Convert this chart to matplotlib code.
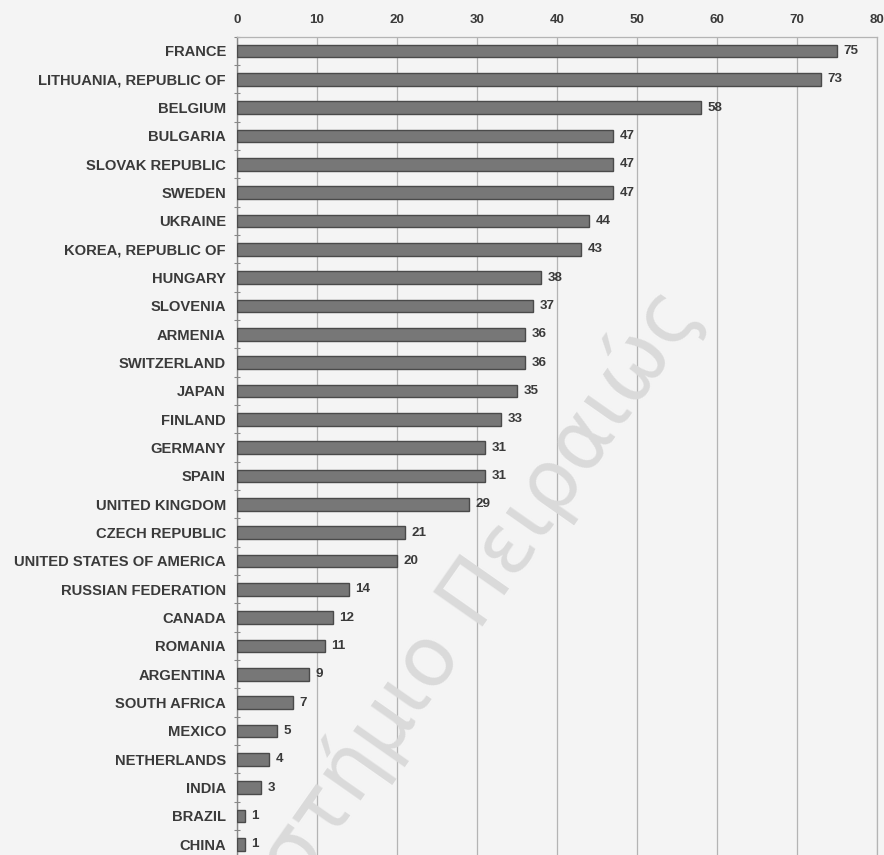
import matplotlib.pyplot as plt
from matplotlib.ticker import FixedLocator

countries = ["FRANCE", "LITHUANIA, REPUBLIC OF", "BELGIUM", "BULGARIA",
             "SLOVAK REPUBLIC", "SWEDEN", "UKRAINE", "KOREA, REPUBLIC OF",
             "HUNGARY", "SLOVENIA", "ARMENIA", "SWITZERLAND", "JAPAN",
             "FINLAND", "GERMANY", "SPAIN", "UNITED KINGDOM", "CZECH REPUBLIC",
             "UNITED STATES OF AMERICA", "RUSSIAN FEDERATION", "CANADA",
             "ROMANIA", "ARGENTINA", "SOUTH AFRICA", "MEXICO", "NETHERLANDS",
             "INDIA", "BRAZIL", "CHINA"]
values = [75, 73, 58, 47, 47, 47, 44, 43, 38, 37, 36, 36, 35, 33, 31, 31,
          29, 21, 20, 14, 12, 11, 9, 7, 5, 4, 3, 1, 1]
x_ticks = [0, 10, 20, 30, 40, 50, 60, 70, 80]

bg = "#f4f4f4"
txt = "#3a3a3a"
font = "Liberation Sans"

fig = plt.figure(figsize=(8.84, 8.55), dpi=100, facecolor=bg)
ax = fig.add_axes([0.2681, -0.004, 0.724, 0.961])
ax.set_facecolor(bg)

pos = list(range(len(countries)))
ax.barh(pos, values, height=0.45, color="#777777", edgecolor="#4a4a4a",
        linewidth=1.0, zorder=3)

for y, v in zip(pos, values):
    ax.annotate(str(v), (v, y), xytext=(4.5, 0), textcoords="offset points",
                va="center", ha="left", fontsize=9.6, fontweight="bold",
                color=txt, family=font, zorder=4)

ax.set_xlim(0, 80)
ax.set_ylim(len(countries) - 0.5, -0.5)
ax.xaxis.tick_top()
ax.set_xticks(x_ticks)
ax.set_xticklabels([str(t) for t in x_ticks], fontsize=9.6, fontweight="bold",
                   color=txt, family=font)
ax.tick_params(axis="x", length=0, pad=8)
ax.set_yticks(pos)
ax.set_yticklabels(countries, fontsize=10.6, fontweight="bold", color=txt,
                   family=font)
ax.tick_params(axis="y", which="major", length=0, pad=8)
ax.yaxis.set_minor_locator(FixedLocator([p + 0.5 for p in pos[:-1]] + [-0.5]))
ax.tick_params(axis="y", which="minor", length=4, width=0.8, color="#888888",
               direction="inout")

ax.grid(axis="x", color="#b4b4b4", linewidth=0.9, zorder=0)
for side in ["top", "right"]:
    ax.spines[side].set_color("#b4b4b4")
    ax.spines[side].set_linewidth(0.9)
ax.spines["left"].set_color("#888888")
ax.spines["left"].set_linewidth(1.0)
ax.spines["bottom"].set_visible(False)

# faint watermark
fig.text(0.795, 0.635, "Πανεπιστήμιο Πειραιώς", fontsize=60, color="#dadada",
         rotation=55, rotation_mode="anchor", ha="right",
         va="baseline", family="DejaVu Sans", zorder=10)

plt.savefig("out.png", dpi=100, facecolor=bg)
plt.close()
